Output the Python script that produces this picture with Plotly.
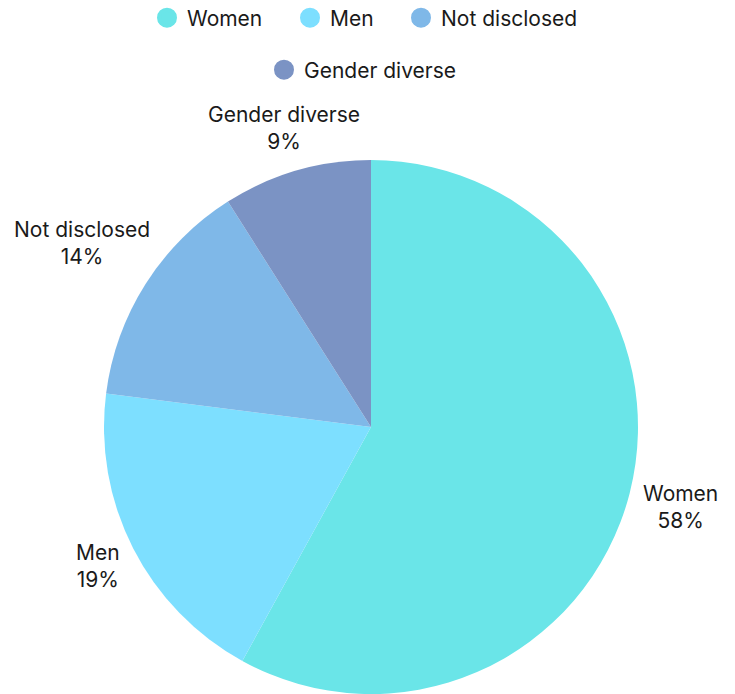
import math
import plotly.graph_objects as go

labels = ["Women", "Men", "Not disclosed", "Gender diverse"]
values = [58, 19, 14, 9]
colors = ["#6AE5E8", "#7DDFFF", "#7FB8E8", "#7B93C4"]

FONT = "Inter"
TXT = "#1a1a1a"
FS = 21

W, H = 735, 694
# pie geometry (pixels from the top-left of the figure)
CX, CY, RAD = 371, 427, 267
LABEL_GAP = 19
LABEL_HALF_H = 14
# legend entry anchor points (pixel positions of each legend symbol)
leg_x = [167, 310, 421, 284]
leg_y = [18, 18, 18, 70]


def px2paper(px, py):
    return px / W, 1 - py / H


def text_width(s):
    w = 0.0
    for ch in s:
        if ch in "il.,' ":
            w += 0.26
        elif ch in "mwMW%":
            w += 0.85
        elif ch.isupper():
            w += 0.68
        elif ch.isdigit():
            w += 0.6
        else:
            w += 0.54
    return w * FS


fig = go.Figure()
x0, _ = px2paper(CX - RAD, 0)
x1, _ = px2paper(CX + RAD, 0)
_, y1 = px2paper(0, CY - RAD)
_, y0 = px2paper(0, CY + RAD)
fig.add_trace(go.Pie(
    labels=labels, values=values, sort=False, direction="clockwise", rotation=0,
    marker=dict(colors=colors, line=dict(color="white", width=0)),
    textinfo="none",
    showlegend=False,
    domain=dict(x=[x0, x1], y=[y0, y1]),
    hoverinfo="label+percent",
))

# outside labels centred on the mid-angle ray of each slice
total = sum(values)
annotations = []
acc = 0
for lab, v in zip(labels, values):
    mid = (acc + v / 2) / total * 2 * math.pi
    acc += v
    s, up = math.sin(mid), math.cos(mid)
    pct = f"{round(v / total * 100)}%"
    hw = max(text_width(lab), text_width(pct)) / 2
    ext = math.hypot(hw * s, LABEL_HALF_H * up)
    rr = RAD + LABEL_GAP + ext
    px = CX + rr * s
    py = CY - rr * up
    ax, ay = px2paper(px, py)
    annotations.append(dict(
        x=ax, y=ay, xref="paper", yref="paper", xanchor="center", yanchor="middle",
        text=f"{lab}<br>{pct}", showarrow=False, align="center",
        font=dict(family=FONT, size=FS, color=TXT),
    ))

legend_layout = {}
for i, (lab, col) in enumerate(zip(labels, colors)):
    lname = "legend" if i == 0 else f"legend{i+1}"
    fig.add_trace(go.Scatter(
        x=[None], y=[None], mode="markers", name=lab,
        marker=dict(color=col, size=16, symbol="circle", line=dict(color=col, width=4)),
        legend=lname,
    ))
    lx, ly = px2paper(leg_x[i] - 20, leg_y[i])
    legend_layout[lname] = dict(
        orientation="h", x=lx, xanchor="left", y=ly, yanchor="middle",
        font=dict(family=FONT, size=FS, color=TXT),
        bgcolor="rgba(0,0,0,0)",
    )

fig.update_layout(
    width=W, height=H,
    margin=dict(l=0, r=0, t=0, b=0, autoexpand=False),
    paper_bgcolor="white", plot_bgcolor="white",
    font=dict(family=FONT, size=FS, color=TXT),
    xaxis=dict(visible=False), yaxis=dict(visible=False),
    annotations=annotations,
    **legend_layout,
)
fig.write_html("out.html", config={"displayModeBar": False},
               post_script="document.body.style.margin='0';")
